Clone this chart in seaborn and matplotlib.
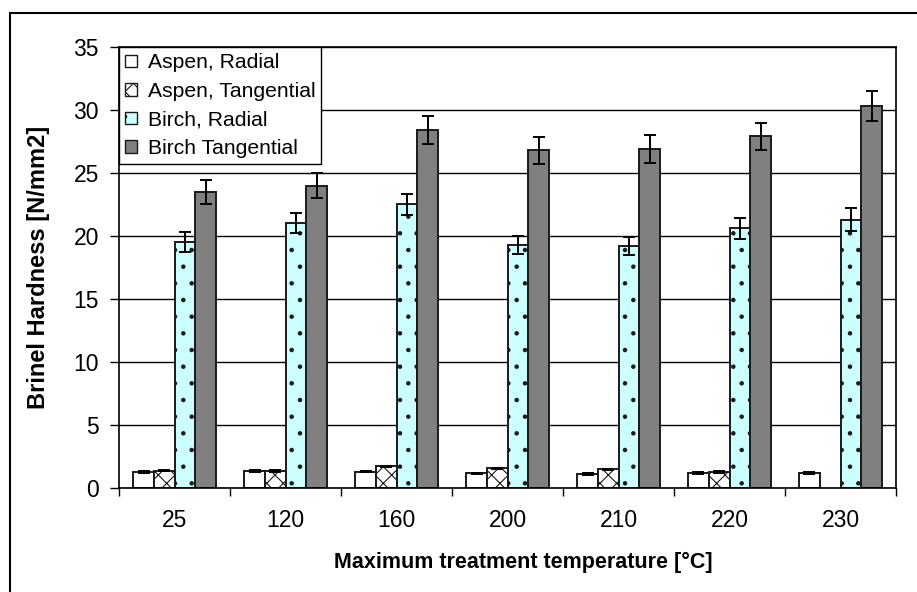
import matplotlib
matplotlib.use("Agg")
import matplotlib.pyplot as plt
import seaborn as sns
import pandas as pd
import numpy as np
from matplotlib.patches import Patch, Rectangle


temps = ["25", "120", "160", "200", "210", "220", "230"]
series = ["Aspen, Radial", "Aspen, Tangential", "Birch, Radial", "Birch Tangential"]

aspen_radial = [1.27, 1.33, 1.30, 1.16, 1.13, 1.17, 1.17]
aspen_tang = [1.38, 1.33, 1.72, 1.55, 1.48, 1.27, np.nan]
birch_radial = [19.5, 21.0, 22.5, 19.3, 19.2, 20.6, 21.3]
birch_tang = [23.5, 24.0, 28.4, 26.8, 26.9, 27.9, 30.3]

aspen_radial_err = [0.06, 0.06, 0.06, 0.06, 0.06, 0.06, 0.06]
aspen_tang_err = [0.06, 0.06, 0.06, 0.06, 0.06, 0.06, np.nan]
birch_radial_err = [0.8, 0.8, 0.8, 0.7, 0.7, 0.8, 0.9]
birch_tang_err = [0.95, 1.0, 1.1, 1.05, 1.1, 1.05, 1.2]

values = [aspen_radial, aspen_tang, birch_radial, birch_tang]
errors = [aspen_radial_err, aspen_tang_err, birch_radial_err, birch_tang_err]

rows = []
for s, vals, errs in zip(series, values, errors):
    for t, v, e in zip(temps, vals, errs):
        rows.append({"temp": t, "series": s, "hardness": v, "err": e})
df = pd.DataFrame(rows)

facecolors = ["white", "white", "#ccffff", "#808080"]
hatches = [None, "xx", ".", None]

plt.rcParams["font.family"] = ["Liberation Sans", "DejaVu Sans"]
plt.rcParams["hatch.linewidth"] = 0.8

f = plt.figure(figsize=(9.17, 5.92), dpi=100)
ax = f.add_axes([0.1298, 0.1757, 0.8473, 0.7449])

sns.barplot(data=df.dropna(subset=["hardness"]), x="temp", y="hardness",
            hue="series", hue_order=series, order=temps,
            errorbar=None, width=0.745, gap=0, legend=False,
            palette=facecolors, saturation=1, ax=ax)

bar_containers = list(ax.containers)
for i, cont in enumerate(bar_containers):
    sub = df[df["series"] == series[i]].set_index("temp")
    for bar in cont:
        bar.set_facecolor(facecolors[i])
        bar.set_edgecolor("#1a1a1a")
        bar.set_linewidth(1.4)
        if hatches[i]:
            bar.set_hatch(hatches[i])
        xc = bar.get_x() + bar.get_width() / 2
        t = temps[int(round(xc))]
        err = sub.loc[t, "err"]
        if not np.isnan(err):
            ax.errorbar(xc, sub.loc[t, "hardness"], yerr=err, color="black",
                        capsize=4, elinewidth=1.4, capthick=1.4, zorder=4)

# Legend
handles = [Patch(facecolor=facecolors[i], edgecolor="#1a1a1a",
                 hatch=hatches[i], label=series[i]) for i in range(4)]
leg = ax.legend(handles=handles, loc="upper left", bbox_to_anchor=(0, 1),
                borderaxespad=0, fontsize=15.2, handlelength=0.55,
                handleheight=0.55, handletextpad=0.5, labelspacing=0.45,
                borderpad=0.3, fancybox=False, framealpha=1)
leg.get_frame().set_edgecolor("black")
leg.get_frame().set_linewidth(1.0)

# Axes styling
ax.set_ylim(0, 35)
ax.set_xlim(-0.5, len(temps) - 0.5)
ax.set_yticks(range(0, 36, 5))
ax.yaxis.grid(True, color="black", linewidth=1.0)
ax.set_axisbelow(True)
for sp in ax.spines.values():
    sp.set_color("black")
    sp.set_linewidth(1.2)
ax.set_xticks(np.arange(-0.5, len(temps)), minor=True)
ax.tick_params(axis="x", which="major", length=0, labelsize=16.5, pad=15)
ax.tick_params(axis="x", which="minor", length=6, width=1, direction="out")
ax.tick_params(axis="y", length=6.5, width=1, labelsize=16.5, pad=8)

ax.set_xlabel("Maximum treatment temperature [°C]", fontsize=15.5,
              fontweight="bold")
ax.xaxis.set_label_coords((523 - 119) / 777, (488 - 552) / 441)
ax.set_ylabel("Brinel Hardness [N/mm2]", fontsize=17, fontweight="bold",
              labelpad=17)

# Outer chart frame
f.patches.append(Rectangle((10 / 917, -0.1), 1.2, 1 - 13 / 592 + 0.1,
                           transform=f.transFigure, fill=False,
                           edgecolor="black", linewidth=1.5))

plt.savefig("out.png", dpi=100)
